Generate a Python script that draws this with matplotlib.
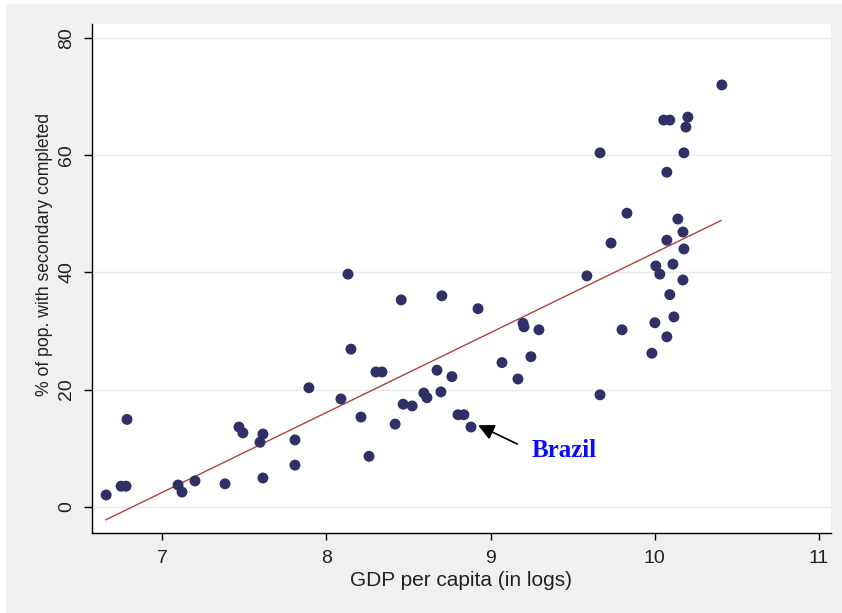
import matplotlib
matplotlib.use("Agg")
import matplotlib.pyplot as plt
from matplotlib.patches import Rectangle

# ---- data ----
gdp_log = [6.658, 6.749, 6.779, 6.785, 7.096, 7.120, 7.199, 7.382, 7.467, 7.491,
           7.613, 7.595, 7.613, 7.808, 7.808, 7.893, 8.088, 8.131, 8.149, 8.210,
           8.259, 8.301, 8.338, 8.418, 8.455, 8.467, 8.522, 8.593, 8.612, 8.673,
           8.703, 8.697, 8.764, 8.801, 8.837, 8.880, 8.923, 9.069, 9.197, 9.203,
           9.166, 9.245, 9.294, 9.586, 9.666, 9.666, 9.733, 9.800, 9.830, 9.982,
           10.000, 10.006, 10.030, 10.073, 10.054, 10.091, 10.073, 10.073, 10.091, 10.110,
           10.116, 10.140, 10.171, 10.177, 10.171, 10.177, 10.189, 10.201, 10.408]
sec_completed = [2.0, 3.5, 3.5, 14.9, 3.7, 2.5, 4.4, 3.9, 13.6, 12.6,
                 12.4, 11.0, 4.9, 11.4, 7.1, 20.3, 18.4, 39.7, 26.9, 15.3,
                 8.6, 23.0, 23.0, 14.1, 35.3, 17.5, 17.2, 19.4, 18.6, 23.3,
                 36.0, 19.6, 22.2, 15.7, 15.7, 13.6, 33.8, 24.6, 31.3, 30.7,
                 21.8, 25.6, 30.2, 39.4, 60.4, 19.1, 45.0, 30.2, 50.1, 26.2,
                 31.4, 41.1, 39.7, 45.5, 66.0, 66.0, 29.0, 57.1, 36.2, 41.4,
                 32.4, 49.1, 46.9, 44.0, 38.7, 60.4, 64.8, 66.5, 72.0]

fit_x = [6.656, 10.403]
fit_y = [-2.24, 48.85]

x_ticks = [7, 8, 9, 10, 11]
y_ticks = [0, 20, 40, 60, 80]

brazil_point = (8.924, 13.9)
brazil_arrow_tail = (9.162, 10.7)
brazil_label = "Brazil"

# ---- figure ----
W, H = 842, 613
fig = plt.figure(figsize=(W / 100, H / 100), dpi=100)
fig.patch.set_facecolor("white")
fig.patches.append(Rectangle((6 / W, 0), 1, 1 - 4 / H, transform=fig.transFigure,
                             facecolor="#f0f0f0", edgecolor="none", zorder=-10))

left, right, top, bottom = 91.7, 830.7, 24, 533.3
ax = fig.add_axes([left / W, 1 - bottom / H, (right - left) / W, (bottom - top) / H])
ax.set_facecolor("white")

ax.set_xlim(6.57, 11.071)
ax.set_ylim(-4.54, 82.4)

for yv in y_ticks:
    ax.axhline(yv, color="#e9e9e9", lw=1.0, zorder=0)

ax.plot(fit_x, fit_y, color="#b4403e", lw=1.0, zorder=2)
ax.scatter(gdp_log, sec_completed, s=62, color="#2f3166", edgecolors="none", zorder=3)

ax.annotate("", xy=brazil_point, xytext=brazil_arrow_tail,
            arrowprops=dict(arrowstyle="-|>", color="black", lw=1.2, mutation_scale=24,
                            shrinkA=0, shrinkB=0), zorder=4)
ax.text(9.252, 8.5, brazil_label, fontfamily="Liberation Serif", fontweight="bold",
        color="#0a0aff", fontsize=18, va="baseline", ha="left")

for s in ["top", "right"]:
    ax.spines[s].set_visible(False)
for s in ["left", "bottom"]:
    ax.spines[s].set_linewidth(1.0)
    ax.spines[s].set_color("black")

font = "Liberation Sans"
ax.set_xticks(x_ticks)
ax.set_xticklabels([str(t) for t in x_ticks], fontfamily=font, fontsize=14, color="#222222")
ax.set_yticks(y_ticks)
ax.set_yticklabels([str(t) for t in y_ticks], fontfamily=font, fontsize=14, color="#222222",
                   rotation=90, va="center")
ax.tick_params(axis="x", length=5, width=1, pad=7)
ax.tick_params(axis="y", length=6, width=1, pad=6)

ax.set_xlabel("GDP per capita (in logs)", fontfamily=font, fontsize=15, color="#222222",
              labelpad=3)
ax.set_ylabel("% of pop. with secondary completed", fontfamily=font, fontsize=12.7,
              color="#222222")
ax.yaxis.set_label_coords(-0.052, 0.548)

fig.savefig("out.png", dpi=100, facecolor=fig.get_facecolor())
